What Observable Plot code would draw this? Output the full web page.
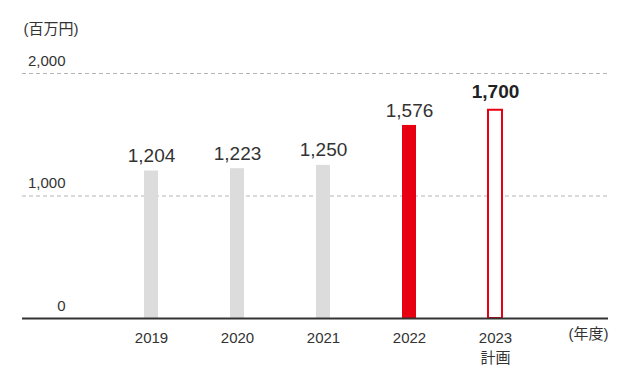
<!DOCTYPE html>
<html>
<head>
<meta charset="utf-8">
<script src="https://cdn.jsdelivr.net/npm/d3@7"></script>
<script src="https://cdn.jsdelivr.net/npm/@observablehq/plot@0.6"></script>
<style>
  html, body { margin: 0; padding: 0; background: #fff; }
</style>
</head>
<body>
<div id="chart"></div>
<script>
const years = ["2019", "2020", "2021", "2022", "2023"];
const values = [1204, 1223, 1250, 1576, 1700];
const yTicks = [0, 1000, 2000];
const yTickLabels = ["0", "1,000", "2,000"];
const unitLabel = "(百万円)";
const yearUnitLabel = "(年度)";
const planYear = "2023";
const planLabel = "計画";
const highlightYear = "2022";

const data = years.map((year, i) => ({year, value: values[i]}));
const fmt = d3.format(",");
const grey = "#dcdcdc";
const red = "#e60012";
const font = "'Liberation Sans', Arial, 'Noto Sans CJK JP', sans-serif";

const chart = Plot.plot({
  width: 641,
  height: 385,
  marginTop: 73,
  marginBottom: 67,
  marginLeft: 22,
  marginRight: 33,
  style: {fontFamily: font, background: "#fff", color: "#333"},
  x: {type: "band", domain: years, range: [105.6, 539.4], paddingInner: 0.838, paddingOuter: 0.419, axis: null},
  y: {domain: [0, 2000], axis: null},
  marks: [
    Plot.ruleY(yTicks.filter(d => d > 0), {stroke: "#b5b5b5", strokeWidth: 1, strokeDasharray: "4,3"}),
    Plot.barY(data.filter(d => d.year !== highlightYear && d.year !== planYear), {x: "year", y: "value", fill: grey}),
    Plot.barY(data.filter(d => d.year === highlightYear), {x: "year", y: "value", fill: red}),
    Plot.barY(data.filter(d => d.year === planYear), {x: "year", y: "value", fill: "#fff", stroke: red, strokeWidth: 2}),
    Plot.ruleY([0], {stroke: "#333", strokeWidth: 2}),
    Plot.text(data.filter(d => d.year !== planYear), {x: "year", y: "value", text: d => fmt(d.value), dy: -15, fontSize: 19, fill: "#333", lineAnchor: "middle"}),
    Plot.text(data.filter(d => d.year === planYear), {x: "year", y: "value", text: d => fmt(d.value), dy: -18, fontSize: 19, fontWeight: "bold", fill: "#222", lineAnchor: "middle"}),
    Plot.text(yTicks, {y: d => d, text: (d, i) => yTickLabels[i], frameAnchor: "left", textAnchor: "end", dx: 43, dy: -12.5, fontSize: 15, fill: "#333", lineAnchor: "middle"}),
    Plot.text(years, {x: d => d, text: d => d, frameAnchor: "bottom", dy: 20, fontSize: 15, fill: "#333", lineAnchor: "middle"}),
    Plot.text([planLabel], {x: () => planYear, text: d => d, frameAnchor: "bottom", dy: 40, fontSize: 15, fill: "#333", lineAnchor: "middle"}),
    Plot.text([yearUnitLabel], {text: d => d, frameAnchor: "bottom-right", textAnchor: "end", dy: 16, fontSize: 15, fill: "#333", lineAnchor: "middle"}),
    Plot.text([unitLabel], {text: d => d, frameAnchor: "top-left", textAnchor: "start", dx: 1, dy: -44, fontSize: 15, fill: "#333", lineAnchor: "middle"})
  ]
});
document.getElementById("chart").appendChild(chart);
</script>
</body>
</html>
